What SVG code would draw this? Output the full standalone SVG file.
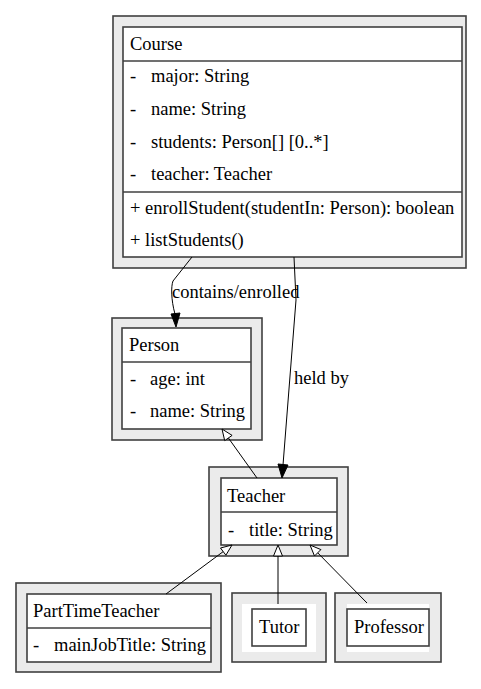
<svg xmlns="http://www.w3.org/2000/svg" width="481" height="689" viewBox="0 0 481 689" font-family="'Liberation Serif', 'Times New Roman', 'DejaVu Serif', serif" font-size="18.5">
<style>
.outer{fill:#ebebeb;stroke:#404040;stroke-width:1.6}
.inner{fill:#ffffff;stroke:#404040;stroke-width:1.6}
.white{fill:#ffffff;stroke:none}
.sep{stroke:#404040;stroke-width:1.6}
.t{font-family:'Liberation Serif','Times New Roman',serif;font-size:18.5px;fill:#000}
.edge{fill:none;stroke:#000;stroke-width:1}
.head{fill:#000;stroke:#000;stroke-width:1}
.hollow{fill:#fff;stroke:#000;stroke-width:1}
</style>
<rect width="481" height="689" fill="#ffffff"/>
<g id="Course" class="t">
<rect class="outer" x="113" y="16" width="353" height="252"/>
<rect class="inner" x="123" y="27" width="339" height="230"/>
<line class="sep" x1="123" y1="61" x2="462" y2="61"/>
<line class="sep" x1="123" y1="192" x2="462" y2="192"/>
<text x="130" y="50">Course</text>
<text x="130" y="82">-</text><text x="151" y="82">major: String</text>
<text x="130" y="115">-</text><text x="151" y="115">name: String</text>
<text x="130" y="148">-</text><text x="151" y="148">students: Person[] [0..*]</text>
<text x="130" y="180">-</text><text x="151" y="180">teacher: Teacher</text>
<text x="130" y="214">+ enrollStudent(studentIn: Person): boolean</text>
<text x="130" y="246">+ listStudents()</text>
</g>
<g id="Person" class="t">
<rect class="outer" x="112" y="318" width="150" height="122"/>
<rect class="inner" x="122" y="328" width="129" height="101"/>
<line class="sep" x1="122" y1="362" x2="251" y2="362"/>
<text x="129" y="351">Person</text>
<text x="130" y="385">-</text><text x="150" y="385">age: int</text>
<text x="130" y="417">-</text><text x="150" y="417">name: String</text>
</g>
<g id="Teacher" class="t">
<rect class="outer" x="209" y="467" width="139" height="89"/>
<rect class="inner" x="221" y="478" width="116" height="67"/>
<line class="sep" x1="221" y1="512" x2="337" y2="512"/>
<text x="227" y="502">Teacher</text>
<text x="228" y="536">-</text><text x="249" y="536">title: String</text>
</g>
<g id="PartTimeTeacher" class="t">
<rect class="outer" x="16" y="583" width="205" height="89"/>
<rect class="inner" x="27" y="594" width="184" height="68"/>
<line class="sep" x1="27" y1="628" x2="211" y2="628"/>
<text x="33" y="617">PartTimeTeacher</text>
<text x="33" y="651">-</text><text x="54" y="651">mainJobTitle: String</text>
</g>
<g id="Tutor" class="t">
<rect class="outer" x="232" y="593" width="94" height="69"/>
<rect class="white" x="242" y="604" width="74" height="48"/>
<rect class="inner" x="252" y="609" width="54" height="37"/>
<text x="259" y="633">Tutor</text>
</g>
<g id="Professor" class="t">
<rect class="outer" x="335" y="593" width="106" height="69"/>
<rect class="white" x="347" y="604" width="82" height="48"/>
<rect class="inner" x="347" y="609" width="82" height="37"/>
<text x="354" y="633">Professor</text>
</g>
<g id="connectors" class="t">
<path class="edge" d="M192,257 L173,281 C171,286 171,300 175,314"/>
<polygon class="head" points="171,314 180,313 176,327"/>
<text x="172" y="298">contains/enrolled</text>
<path class="edge" d="M294,257 L296,300 L283,465"/>
<polygon class="head" points="278,464 288,465 282,478"/>
<text x="294" y="384">held by</text>
<path class="edge" d="M257,478 L228.4,438"/>
<polygon class="hollow" points="222,429 224.7,440.6 232.1,435.4"/>
<path class="edge" d="M166,594 L223.2,551.6"/>
<polygon class="hollow" points="232,545 220.5,548 225.9,555.2"/>
<path class="edge" d="M278,604 L278,556"/>
<polygon class="hollow" points="278,545 273.5,556 282.5,556"/>
<path class="edge" d="M367,603 L317.7,552.8"/>
<polygon class="hollow" points="310,545 314.5,556 320.9,549.6"/>
</g>
</svg>
